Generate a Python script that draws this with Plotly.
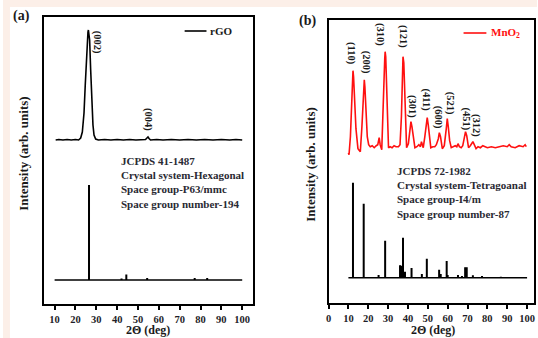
import plotly.graph_objects as go

# ---------------- data ----------------
# (a) rGO measured pattern: 2theta (deg) and intensity above baseline (arb.)
rgo_x = [10.5, 12, 14, 16, 18, 20, 21.5, 22.5, 23.3, 24.1, 24.7, 25.2, 25.7, 26.0, 26.2,
         26.5, 26.8, 27.3, 27.8, 28.4, 28.9, 29.7, 31, 34, 37, 40, 43, 46, 49, 52,
         53.6, 54.3, 54.8, 55.3, 56, 59, 62, 66, 70, 74, 78, 82, 86, 90, 94, 97, 100]
rgo_y = [0, 0.5, 0, 0.5, 0, 0.5, 0, 2, 8, 27, 55, 80, 100, 108, 110,
         106, 100, 70, 37, 15, 5, 1, 0, 0.5, 0, 0.5, 0, 0.5, 0, 0.5,
         0.5, 2, 3, 1.5, 0, 0.5, 0, 0.5, 0, 0.5, 0, 0.5, 0, 0.5, 0, 0.5, 0]

# (a) JCPDS 41-1487 reference lines
rgo_ref_pos = [26.5, 42.1, 44.4, 54.4, 77.2, 83.2]
rgo_ref_int = [95, 1.5, 5.5, 2, 2, 2]

# (b) MnO2 measured pattern
mno2_x = [10.0, 10.3, 11.0, 11.8, 12.1, 12.3, 12.6, 13.0, 13.8, 14.8, 16.0, 16.8, 17.5, 17.8,
          18.0, 18.3, 18.8, 19.5, 20.2, 21, 22, 23, 24, 24.8, 25.5, 26.0, 26.8, 27.4,
          28.0, 28.3, 28.5, 28.8, 29.2, 29.7, 30.2, 31, 32, 33, 34, 35.2, 36.0, 36.7,
          37.2, 37.5, 37.9, 38.5, 39.3, 40.2, 41.0, 41.5, 42.0, 42.7, 43.5, 44.5, 45.5,
          46.3, 46.8, 47.4, 47.7, 48.5, 49.3, 49.7, 50.2, 50.9, 51.5, 52.5, 53.5, 54.3,
          55.3, 55.8, 56.4, 57.3, 58.3, 59.3, 59.8, 60.3, 61.0, 61.8, 62.8, 63.8, 64.6,
          65.2, 65.9, 66.8, 67.6, 68.4, 69.0, 69.6, 70.5, 71.4, 72.2, 72.7, 73.4, 74.3,
          75.3, 76.5, 77.7, 78.8, 80, 82, 84, 86, 88, 90, 91, 92, 94, 96, 98, 99, 99.6]
mno2_y = [-6, -8, 10, 60, 73, 76, 70, 50, 18, -2, -5, 20, 55, 65,
          67, 60, 35, 10, 2, 0, 1, -1, 1, 2, 9, 2, -3, 25,
          70, 88, 95, 90, 60, 20, -1, 0, -1, 1, 0, 0, 2, 30,
          75, 90, 84, 45, -1, 3, 18, 25, 20, 8, -1, 0, 2,
          0, 5, 1, -1, 10, 25, 29, 22, 8, -1, 0, 0, 2,
          8, 14, 10, -2, 1, 18, 28, 20, 6, -1, 0, 1, 0,
          3, 0, -1, 1, 8, 15, 11, -1, 1, 3, 5, 2, -2,
          0, -1, 1, 0, -1, 0, -1, 0, 1, 0, 2, 0, -1, 1, 0, 2, 0]

# (b) JCPDS 72-1982 reference lines
mno2_ref_pos = [12.3, 17.7, 25.2, 28.5, 36.0, 36.6, 37.5, 38.5, 41.8, 47.0, 49.5, 55.7, 56.5,
                59.5, 60.0, 65.2, 67.2, 68.8, 69.6, 72.7, 77.3, 86.8]
mno2_ref_int = [95, 74, 2.7, 37, 12.4, 12, 40, 6, 9.7, 3.7, 19, 8, 3.7,
                16.7, 2.7, 2.7, 1.7, 10.4, 10.4, 2.4, 1.7, 1]

# stacking offsets of the measured curve above the reference pattern
rgo_offset = 140
mno2_offset = 131

rgo_hkl = ["(002)", "(004)"]
rgo_hkl_x = [30.5, 55.1]
rgo_hkl_y = [238, 160.5]

mno2_hkl = ["(110)", "(200)", "(310)", "(121)", "(301)", "(411)", "(600)", "(521)", "(451)", "(312)"]
mno2_hkl_x = [11, 19, 25.7, 37.3, 41.8, 49.3, 55.2, 61, 69, 74.3]
mno2_hkl_y = [224.2, 215.7, 243.2, 241.2, 171.2, 177.7, 160.7, 174.2, 158.7, 152.7]

ticks_a = [10, 20, 30, 40, 50, 60, 70, 80, 90, 100]
ticks_b = [0, 10, 20, 30, 40, 50, 60, 70, 80, 90, 100]

W, H = 538, 338
SERIF = "Liberation Serif"
INK = "#1e1e28"


def sticks(pos, inten):
    xs, ys = [], []
    for p, v in zip(pos, inten):
        xs += [p, p, None]
        ys += [0, v, None]
    return xs, ys


fig = go.Figure()

# ---- panel (a) ----
fig.add_trace(go.Scatter(x=rgo_x, y=[v + rgo_offset for v in rgo_y], mode="lines",
                         line=dict(color="black", width=1.6), xaxis="x", yaxis="y",
                         showlegend=False))
sx, sy = sticks(rgo_ref_pos, rgo_ref_int)
fig.add_trace(go.Scatter(x=sx, y=sy, mode="lines", line=dict(color="black", width=2),
                         xaxis="x", yaxis="y", showlegend=False))
fig.add_trace(go.Scatter(x=[10, 100], y=[0, 0], mode="lines", line=dict(color="black", width=1.6),
                         xaxis="x", yaxis="y", showlegend=False))

# ---- panel (b) ----
fig.add_trace(go.Scatter(x=mno2_x, y=[v + mno2_offset for v in mno2_y], mode="lines",
                         line=dict(color="#ff1010", width=1.6), xaxis="x2", yaxis="y2",
                         showlegend=False))
sx, sy = sticks(mno2_ref_pos, mno2_ref_int)
fig.add_trace(go.Scatter(x=sx, y=sy, mode="lines", line=dict(color="black", width=2),
                         xaxis="x2", yaxis="y2", showlegend=False))
fig.add_trace(go.Scatter(x=[10, 100], y=[0, 0], mode="lines", line=dict(color="black", width=1.6),
                         xaxis="x2", yaxis="y2", showlegend=False))


def px_x(p):
    return p / W


def px_y(p):
    return 1 - p / H


axis_common = dict(showline=True, linecolor="black", linewidth=1.8, mirror=True,
                   showgrid=False, zeroline=False)

fig.update_layout(
    width=W, height=H, margin=dict(l=0, r=0, t=0, b=0),
    paper_bgcolor="white", plot_bgcolor="white",
    xaxis=dict(domain=[px_x(41), px_x(252)], range=[4.76, 105.24], tickvals=ticks_a,
               ticktext=["<b>%d</b>" % t for t in ticks_a],
               ticks="outside", ticklen=4, tickwidth=1.6, tickcolor="black",
               tickfont=dict(family=SERIF, size=10.5, color=INK), anchor="y", **axis_common),
    yaxis=dict(domain=[px_y(304), px_y(17)], range=[-24, 263], showticklabels=False,
               ticks="", anchor="x", **axis_common),
    xaxis2=dict(domain=[px_x(328), px_x(535)], range=[0, 103.5], tickvals=ticks_b,
                ticktext=["<b>%d</b>" % t for t in ticks_b],
                ticks="outside", ticklen=4, tickwidth=1.6, tickcolor="black",
                tickfont=dict(family=SERIF, size=10.5, color=INK), anchor="y2", **axis_common),
    yaxis2=dict(domain=[px_y(303), px_y(20)], range=[-25.3, 257.7], showticklabels=False,
                ticks="", anchor="x2", **axis_common),
)

shapes = [
    dict(type="rect", xref="paper", yref="paper", x0=0, x1=px_x(7), y0=0, y1=1,
         fillcolor="#fcefe8", line=dict(width=0), layer="below"),
    dict(type="rect", xref="paper", yref="paper", x0=0, x1=1, y0=px_y(7), y1=1,
         fillcolor="#fcefe8", line=dict(width=0), layer="below"),
    # legend samples
    dict(type="line", xref="paper", yref="paper", x0=px_x(183), x1=px_x(205),
         y0=px_y(31), y1=px_y(31), line=dict(color="black", width=1.6)),
    dict(type="line", xref="paper", yref="paper", x0=px_x(464), x1=px_x(487),
         y0=px_y(33), y1=px_y(33), line=dict(color="#ff1010", width=1.6)),
]
fig.update_layout(shapes=shapes)

ann = []


def txt(x, y, s, size, color=INK, xanchor="center", yanchor="middle", angle=0,
        xref="paper", yref="paper", bold=True, pad=1):
    ann.append(dict(x=x, y=y, xref=xref, yref=yref, text=("<b>%s</b>" % s) if bold else s,
                    showarrow=False, xanchor=xanchor, yanchor=yanchor, textangle=angle,
                    borderpad=pad, font=dict(family=SERIF, size=size, color=color)))


# panel letters
txt(px_x(19), px_y(16), "(a)", 14, color="#1a1a1a")
txt(px_x(307), px_y(21), "(b)", 14, color="#1a1a1a")

# axis titles
txt(px_x(146), px_y(338), "2Θ (deg)", 12, color="#1a1a1a", yanchor="bottom", pad=0)
txt(px_x(433), px_y(338), "2Θ (deg)", 12, color="#1a1a1a", yanchor="bottom", pad=0)
txt(px_x(20), px_y(153), "Intensity (arb. units)", 13, color="#1a1a1a", angle=-90)
txt(px_x(309), px_y(164), "Intensity (arb. units)", 13, color="#1a1a1a", angle=-90)

# legends
txt(px_x(207), px_y(31), "rGO", 11, color="#1a1a1a", xanchor="left")
txt(px_x(490), px_y(33), "MnO<sub>2</sub>", 11, color="#ff1010", xanchor="left")

# JCPDS info blocks
info_a = ["JCPDS 41-1487", "Crystal system-Hexagonal", "Space group-P63/mmc",
          "Space group number-194"]
info_b = ["JCPDS 72-1982", "Crystal system-Tetragoanal", "Space group-I4/m",
          "Space group number-87"]
for i, s in enumerate(info_a):
    txt(px_x(117), px_y(161 + 14.2 * i), s, 11, color="#2a2a33", xanchor="left")
for i, s in enumerate(info_b):
    txt(px_x(395), px_y(171 + 14.2 * i), s, 11, color="#2a2a33", xanchor="left")

# hkl labels
for s, x, y in zip(rgo_hkl, rgo_hkl_x, rgo_hkl_y):
    txt(x, y, s, 10.5, color="#1a1a1a", angle=90, xref="x", yref="y")
for s, x, y in zip(mno2_hkl, mno2_hkl_x, mno2_hkl_y):
    txt(x, y, s, 10.5, color="#1a1a1a", angle=90, xref="x2", yref="y2")

fig.update_layout(annotations=ann)

fig.write_html("out.html")
